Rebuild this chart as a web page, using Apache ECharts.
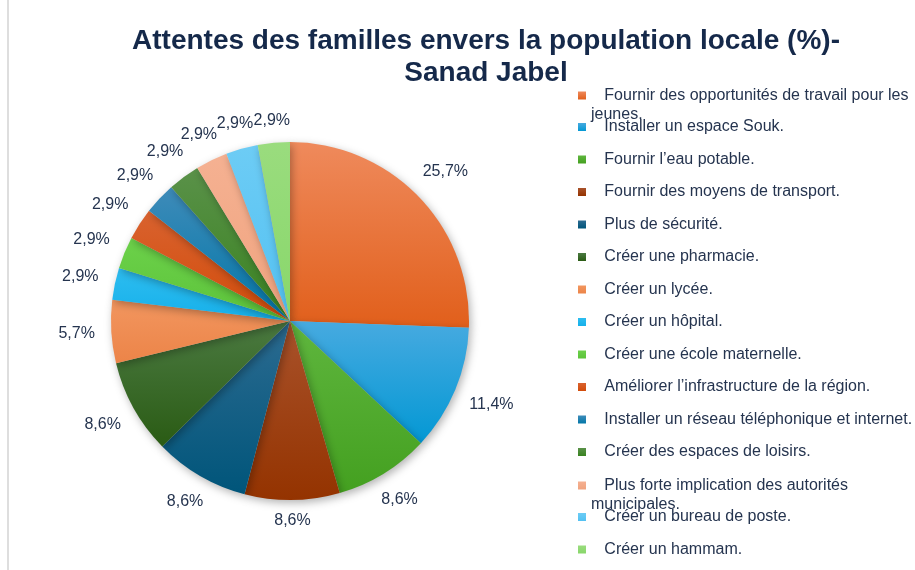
<!DOCTYPE html>
<html>
<head>
<meta charset="utf-8">
<script src="https://cdn.jsdelivr.net/npm/echarts@6/dist/echarts.min.js"></script>
<style>
  html, body { margin: 0; padding: 0; background: #fff; }
  #main { width: 915px; height: 570px; }
  .edge { position: absolute; left: 7px; top: 0; width: 2px; height: 570px; background: #dedede; }
</style>
</head>
<body>
<div id="main"></div>
<div class="edge"></div>
<script>
// données
var categories = [
    'Fournir des opportunités de travail pour les jeunes.',
    'Installer un espace Souk.',
    'Fournir l\u2019eau potable.',
    'Fournir des moyens de transport.',
    'Plus de sécurité.',
    'Créer une pharmacie.',
    'Créer un lycée.',
    'Créer un hôpital.',
    'Créer une école maternelle.',
    'Améliorer l\u2019infrastructure de la région.',
    'Installer un réseau téléphonique et internet.',
    'Créer des espaces de loisirs.',
    'Plus forte implication des autorités municipales.',
    'Créer un bureau de poste.',
    'Créer un hammam.'
];
var shares = [25.7, 11.4, 8.6, 8.6, 8.6, 8.6, 5.7, 2.9, 2.9, 2.9, 2.9, 2.9, 2.9, 2.9, 2.9];

// couleurs (haut, bas) pour le dégradé
var colors = [
    ['#ef8a5c', '#e15f1b'],
    ['#47aae0', '#0398d4'],
    ['#5fb63e', '#44a020'],
    ['#a9522b', '#943300'],
    ['#2c6b91', '#00557a'],
    ['#4b7a41', '#2a5b14'],
    ['#f2965f', '#ec8448'],
    ['#2dbdf0', '#16b0ea'],
    ['#6cd14a', '#5cc33a'],
    ['#d9622f', '#d24c0a'],
    ['#3e8bb9', '#0277a8'],
    ['#5a9149', '#398320'],
    ['#f5b192', '#f0a37e'],
    ['#6dccf5', '#53c1f2'],
    ['#9adc7e', '#88d76a']
];

var FONT = 'Arial, "Liberation Sans", sans-serif';
var TEXT_COLOR = '#25344f';
var pieCenter = [290, 321];
var pieRadius = 179;
var labelGap = 12;

// coupe la légende en deux lignes si trop longue
var ctx = document.createElement('canvas').getContext('2d');
ctx.font = '16px ' + FONT;
function wrapLegend(name) {
    var maxW = 322;
    var words = name.split(' ');
    var line = '   ', lines = [];
    for (var i = 0; i < words.length; i++) {
        var test = line + (line.trim() ? ' ' : '') + words[i];
        if (ctx.measureText(test).width > maxW && line.trim()) {
            lines.push(line);
            line = words[i];
        } else {
            line = test;
        }
    }
    lines.push(line);
    return lines;
}

var pieData = categories.map(function (name, i) {
    return {
        name: name,
        value: shares[i],
        itemStyle: {
            color: new echarts.graphic.LinearGradient(0, 0, 0, 1, [
                {offset: 0, color: colors[i][0]},
                {offset: 1, color: colors[i][1]}
            ])
        }
    };
});

var legends = categories.map(function (name, i) {
    var lines = wrapLegend(name);
    var wrapped = lines.length > 1;
    // ligne vide en tête : la 1re ligne reste alignée sur le carré
    var text = wrapped ? '\n' + lines.join('\n') : lines[0];
    return {
        orient: 'vertical',
        left: 578,
        top: 94 + i * 32.5 - (wrapped ? 27 : 9),
        padding: 0,
        icon: 'rect',
        itemWidth: 8,
        itemHeight: 8,
        data: [name],
        formatter: function () { return text; },
        textStyle: {
            fontSize: 16,
            lineHeight: 19,
            color: TEXT_COLOR,
            fontFamily: FONT
        }
    };
});

var myChart = echarts.init(document.getElementById('main'));
var option = {
    backgroundColor: '#fff',
    animation: false,
    title: {
        text: 'Attentes des familles envers la population locale (%)-\nSanad Jabel',
        left: 481,
        top: 20,
        textAlign: 'center',
        textStyle: {
            fontSize: 28,
            fontWeight: 'bold',
            lineHeight: 32,
            color: '#15294a',
            fontFamily: FONT
        }
    },
    legend: legends,
    series: [
        {
            type: 'pie',
            center: pieCenter,
            radius: pieRadius,
            startAngle: 90,
            clockwise: true,
            avoidLabelOverlap: false,
            itemStyle: {
                shadowBlur: 8,
                shadowOffsetX: 2,
                shadowOffsetY: 3,
                shadowColor: 'rgba(0,0,0,0.3)'
            },
            label: {
                show: true,
                position: 'inside',
                color: TEXT_COLOR,
                fontSize: 16,
                fontFamily: FONT,
                textBorderWidth: 0,
                formatter: function (p) {
                    return p.value.toFixed(1).replace('.', ',') + '%';
                }
            },
            labelLine: { show: false },
            // pousse chaque étiquette à l'extérieur, le long de la bissectrice
            labelLayout: function (p) {
                var r = p.labelRect;
                var cx = r.x + r.width / 2, cy = r.y + r.height / 2;
                var dx = cx - pieCenter[0], dy = cy - pieCenter[1];
                var d = Math.sqrt(dx * dx + dy * dy) || 1;
                var ux = dx / d, uy = dy / d;
                var R = pieRadius + labelGap + Math.abs(ux) * (r.width / 2 + 4) + Math.abs(uy) * r.height / 2;
                return {
                    x: pieCenter[0] + ux * R,
                    y: pieCenter[1] + uy * R,
                    align: 'center',
                    verticalAlign: 'middle'
                };
            },
            emphasis: { scale: false },
            data: pieData
        }
    ]
};
myChart.setOption(option);
</script>
</body>
</html>
